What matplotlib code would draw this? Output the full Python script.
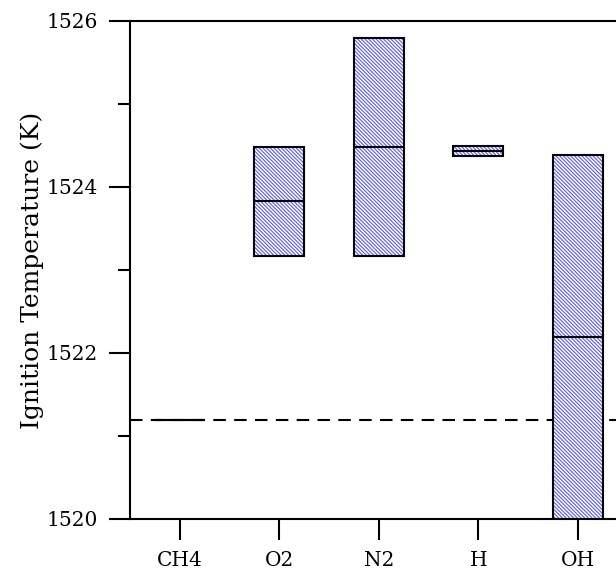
import numpy as np
import matplotlib.pyplot as plt

plt.rcParams['font.family'] = ['DejaVu Serif']
plt.rcParams['hatch.linewidth'] = 0.8

# data
species = ['CH4', 'O2', 'N2', 'H', 'OH']
t_low = [1521.19, 1523.17, 1523.17, 1524.37, 1519.9]
t_high = [1521.19, 1524.48, 1525.80, 1524.49, 1524.38]
t_mid = [1521.19, 1523.83, 1524.48, 1524.43, 1522.19]
t_ref = 1521.19  # dashed reference line

fig = plt.figure(figsize=(6.16, 5.76), dpi=100)
ax = fig.add_axes([130/616, 57/576, 497.5/616, 498/576])

x = np.arange(1, len(species) + 1)
h = np.array(t_high) - np.array(t_low)
# hatch takes the edge colour, so fill and outline are drawn apart
ax.bar(x, h, bottom=t_low, width=0.5, color='white', edgecolor='#5a5af0',
       linewidth=0, hatch='\\\\\\\\\\\\\\\\\\', zorder=2)
ax.bar(x, h, bottom=t_low, width=0.5, fill=False, edgecolor='black',
       linewidth=1.5, zorder=3)
ax.hlines(t_mid, x - 0.25, x + 0.25, colors='black', linewidth=1.5, zorder=3)
ax.axhline(t_ref, color='black', linewidth=1.5, dashes=(6, 4), zorder=1)

ax.set_xlim(0.5, 5.5)
ax.set_ylim(1520, 1526)
ax.set_xticks(x)
ax.set_xticklabels(species)
ax.set_yticks([1520, 1522, 1524, 1526])
ax.set_yticks([1521, 1523, 1525], minor=True)
ax.tick_params(axis='both', which='major', direction='out', length=15, width=1.5,
               labelsize=14.5, pad=8)
ax.tick_params(axis='y', which='minor', direction='out', length=8.5, width=1.5)
ax.set_ylabel('Ignition Temperature (K)', fontsize=18, labelpad=2)

ax.spines['right'].set_visible(False)
for s in ['left', 'top', 'bottom']:
    ax.spines[s].set_linewidth(1.5)

fig.savefig('out.png', dpi=100)
